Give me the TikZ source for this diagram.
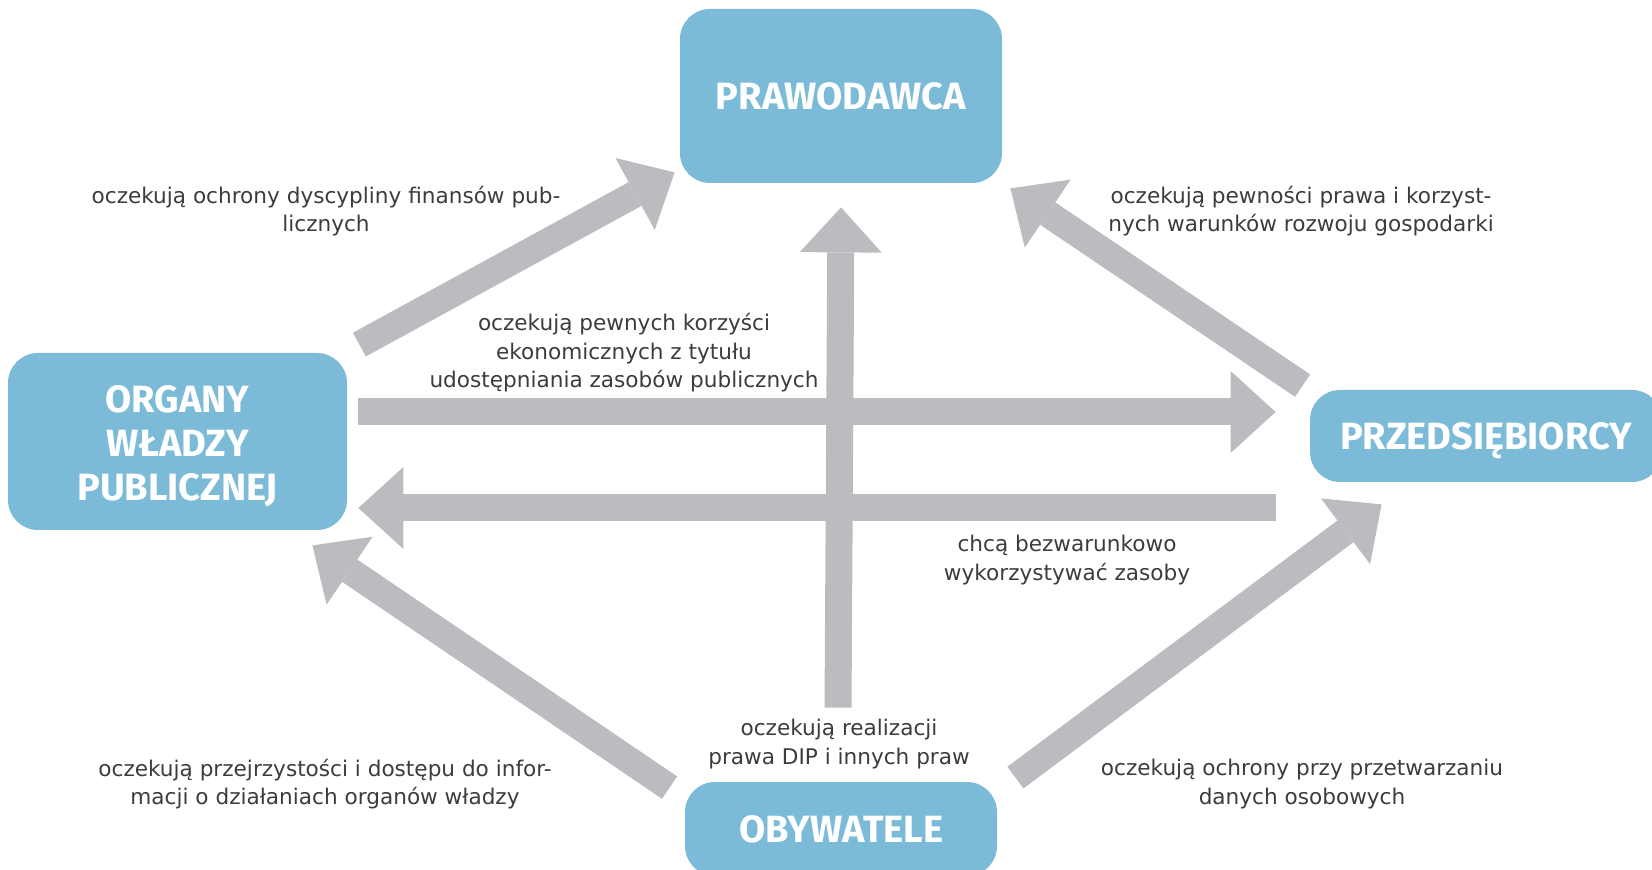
\documentclass[tikz,border=0pt]{standalone}
\usepackage{fontspec}
\setmainfont{DejaVu Sans}
\newfontfamily\boxfont{Fira Sans}
\usepackage{xcolor}
\usetikzlibrary{
  arrows.meta,
  positioning
}

\definecolor{boxblue}{HTML}{7BBBD8}
\definecolor{arrowgrey}{HTML}{BBBCC0}
\definecolor{notegrey}{HTML}{3C3C3C}

\begin{document}
\begin{tikzpicture}[x=0.5pt,y=-0.5pt,>=Latex]

\tikzset{
    party/.style={
        fill=boxblue, draw=none, text=white,
        rounded corners=15pt, align=center,
        font=\boxfont\bfseries\fontsize{19}{22}\selectfont
    },
    bigarrow/.style={
        arrowgrey, line width=13.5pt,
        -{Triangle[width=41pt,length=22.5pt,line width=0pt]}
    },
    note/.style={
        text=notegrey, align=center, inner sep=0pt,
        font=\fontsize{10.8}{14.25}\selectfont
    },
}

\useasboundingbox (0,0) rectangle (1652,870);

% The four parties
\node[party, minimum width=161pt, minimum height=87pt]   (praw) at (841,96)    {PRAWODAWCA};
\node[party, minimum width=169.5pt, minimum height=88.5pt] (org) at (177.5,441.5) {\rule{0pt}{18.5pt}ORGANY\\WŁADZY\\PUBLICZNEJ};
\node[party, minimum width=176pt, minimum height=46pt,
      text height=13.3pt, text depth=0pt]                (prz)  at (1486,436)  {PRZEDSIĘBIORCY};
\node[party, minimum width=156pt, minimum height=47pt]   (oby)  at (841,829)   {OBYWATELE};

% Expectations
\node[note] (finanse)  at (326,211)   {oczekują ochrony dyscypliny finansów pub-\\licznych};
\node[note] (pewnosc)  at (1301,211)  {oczekują pewności prawa i korzyst-\\nych warunków rozwoju gospodarki};
\node[note] (korzysci) at (624,353)   {oczekują pewnych korzyści\\ekonomicznych z tytułu\\udostępniania zasobów publicznych};
\node[note] (zasoby)   at (1067,560)  {chcą bezwarunkowo\\wykorzystywać zasoby};
\node[note] (dip)      at (839,744)   {oczekują realizacji\\prawa DIP i innych praw};
\node[note] (jawnosc)  at (325,784) {oczekują przejrzystości i dostępu do infor-\\macji o działaniach organów władzy};
\node[note] (dane)     at (1302,784) {oczekują ochrony przy przetwarzaniu\\danych osobowych};

% Arrows between the parties
\draw[bigarrow] ([shift={(12,-8)}]org.north east)  -- ([shift={(-5,-11)}]praw.south west);
\draw[bigarrow] ([shift={(-7,-4)}]prz.north west)  -- ([shift={(8,5)}]praw.south east);
\draw[bigarrow] ([shift={(11,-29.5)}]org.east)     -- ([shift={(-34,-24)}]prz.west);
\draw[bigarrow] ([shift={(-34,72)}]prz.west)       -- ([shift={(11,66.5)}]org.east);
\draw[bigarrow] ([shift={(-3,-74)}]oby.north)      -- ([shift={(0,24)}]praw.south);
\draw[bigarrow] ([shift={(-15,6)}]oby.north west)  -- ([shift={(-35,15)}]org.south east);
\draw[bigarrow] ([shift={(18,-4)}]oby.north east)  -- ([shift={(72,22)}]prz.south west);

\end{tikzpicture}
\end{document}
